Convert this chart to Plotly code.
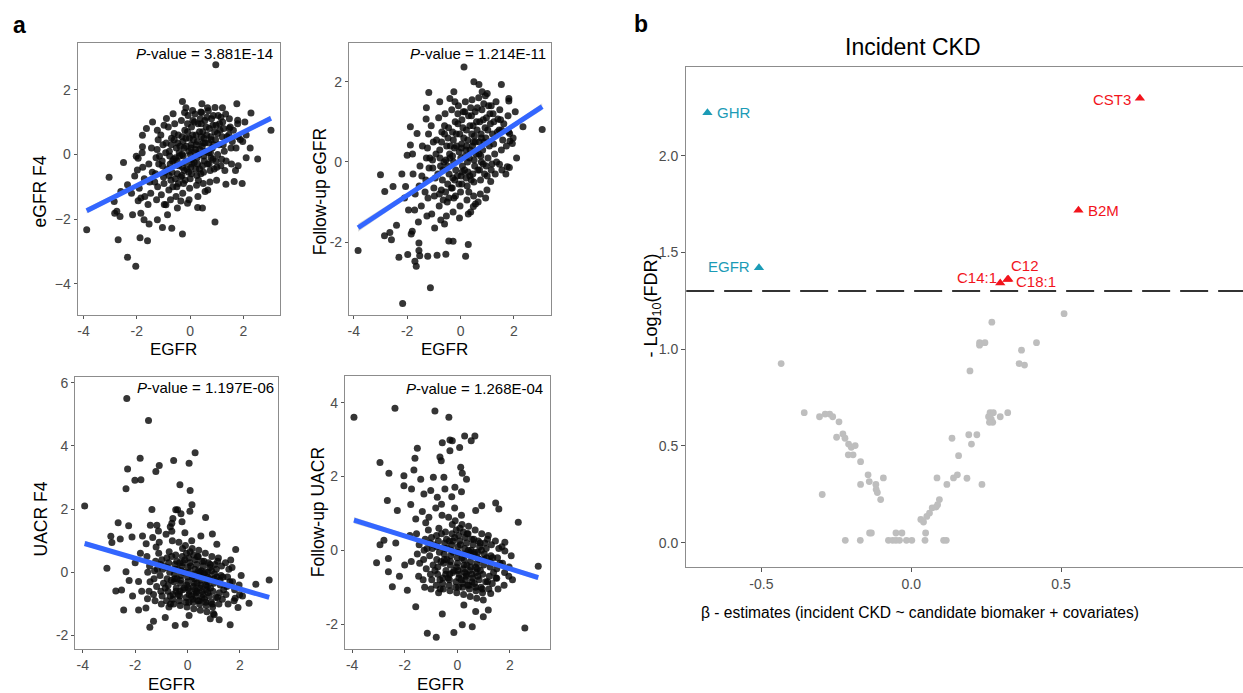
import numpy as np
import plotly.graph_objects as go

FONT = "Liberation Sans, Arial, sans-serif"
W, H = 1243, 693

# ---------------------------------------------------------------------------
# Panel a: circulating EGFR (x) against kidney traits (y)
# ---------------------------------------------------------------------------
egfr_f4_pts = [
    (0.96, 2.77), (-3.88, -2.33), (-3.04, -0.71), (-2.35, -3.18), (-2.04, -3.46), (-2.70, -2.64),
    (-1.88, -2.58), (-1.60, -2.67), (-2.83, -1.82), (-2.75, -1.76), (-2.63, -1.92), (-2.85, -1.46),
    (-2.60, -1.15), (-2.50, -0.25), (-2.35, -0.94), (-2.20, -1.20), (-2.16, -1.87), (-1.98, -0.48),
    (-1.91, -1.05), (-1.85, -1.35), (-1.85, -1.82), (-1.73, -2.02), (-1.54, -2.15), (-1.95, -0.12),
    (-1.79, 0.24), (-1.79, 0.59), (-1.64, 0.80), (-1.41, 1.00), (-1.23, 0.75), (-0.98, 0.90),
    (-0.89, 1.11), (-0.64, 1.26), (-0.29, 1.64), (-0.16, 1.44), (0.09, 1.36), (0.40, 1.31),
    (0.44, 1.57), (0.65, 1.44), (1.21, 1.44), (1.75, 1.57), (2.28, 1.28), (3.03, 0.75),
    (2.53, -0.14), (1.80, -0.35), (1.88, 0.46), (1.78, 1.06), (1.46, 0.80), (1.65, -0.84),
    (1.34, -0.92), (0.93, -2.09), (0.46, -1.66), (0.28, -1.64), (-0.29, -2.46), (-0.69, -2.28),
    (-1.04, -2.26), (-1.23, -2.02), (-0.85, -1.87), (-0.91, -1.56), (-0.48, -1.66), (-0.10, -1.51),
    (-0.35, -1.44), (2.10, 0.60), (2.25, 0.20), (1.95, -0.90), (-2.08, -0.67), (-1.95, -1.43),
    (-2.02, -0.06),
    (-1.78, -0.40), (-1.70, -1.30), (-1.72, -0.75), (-1.80, 0.05),
    (-1.55, -0.30), (-1.48, -1.20), (-1.52, -0.85), (-1.45, 0.20), (-1.58, -1.55), (-1.42, -0.55),
    (-1.28, -0.10), (-1.22, -1.00), (-1.30, -0.60), (-1.20, 0.45), (-1.26, -1.40), (-1.18, -0.30),
    (-1.33, -0.85), (-1.24, 0.15),
    (-1.05, -0.20), (-0.98, -0.90), (-1.02, 0.30), (-0.95, -0.55), (-1.08, -1.25), (-0.92, 0.05),
    (-1.00, -0.70), (-1.10, 0.60), (-0.97, -1.55), (-1.04, -0.35),
    (-0.78, 0.10), (-0.72, -0.80), (-0.75, -0.30), (-0.70, 0.50), (-0.80, -1.10), (-0.68, -0.55),
    (-0.82, 0.85), (-0.74, -1.40), (-0.77, -0.05), (-0.71, 0.30), (-0.79, -0.65), (-0.66, -0.20),
    (-0.52, 0.20), (-0.48, -0.60), (-0.55, -0.10), (-0.45, 0.60), (-0.50, -1.00), (-0.58, 0.95),
    (-0.43, -0.35), (-0.53, -1.30), (-0.47, 0.35), (-0.56, -0.75), (-0.41, 0.05), (-0.49, -0.20),
    (-0.60, 0.45), (-0.44, -0.90),
    (-0.27, 0.40), (-0.22, -0.50), (-0.30, 0.00), (-0.20, 0.75), (-0.25, -0.90), (-0.33, 1.05),
    (-0.18, -0.25), (-0.28, -1.20), (-0.23, 0.20), (-0.31, -0.65), (-0.16, 0.50), (-0.26, -0.05),
    (-0.21, 1.30), (-0.29, -0.40), (-0.19, -0.80),
    (-0.03, 0.50), (0.02, -0.40), (-0.05, 0.10), (0.05, 0.85), (0.00, -0.75), (-0.08, 1.20),
    (0.07, -0.15), (-0.02, -1.05), (0.04, 0.30), (-0.06, -0.55), (0.09, 0.60), (0.01, 0.00),
    (-0.10, 0.95), (0.06, -0.30), (-0.04, -1.40), (0.03, 0.20),
    (0.22, 0.60), (0.28, -0.30), (0.20, 0.15), (0.30, 0.95), (0.25, -0.65), (0.18, 1.25),
    (0.33, 0.00), (0.24, -0.95), (0.27, 0.40), (0.21, -0.45), (0.35, 0.70), (0.26, -0.10),
    (0.16, 1.00), (0.31, -0.80), (0.23, 0.30), (0.29, -1.30),
    (0.47, 0.70), (0.53, -0.20), (0.45, 0.25), (0.55, 1.05), (0.50, -0.55), (0.43, 1.30),
    (0.58, 0.10), (0.49, -0.90), (0.52, 0.50), (0.46, -0.35), (0.60, 0.85), (0.51, -0.05),
    (0.41, 0.95), (0.56, -1.15), (0.48, 0.35),
    (0.72, 0.80), (0.78, -0.10), (0.70, 0.35), (0.80, 1.10), (0.75, -0.50), (0.68, 1.35),
    (0.83, 0.20), (0.74, -0.85), (0.77, 0.55), (0.71, -0.30), (0.85, 0.90), (0.76, 0.05),
    (0.66, -1.10),
    (0.97, 0.90), (1.03, 0.00), (0.95, 0.45), (1.05, 1.20), (1.00, -0.40), (0.93, 1.45),
    (1.08, 0.30), (0.99, -0.80), (1.02, 0.65), (0.96, -0.20), (1.10, 0.95),
    (1.22, 1.00), (1.28, 0.10), (1.20, 0.55), (1.30, -0.50), (1.25, 0.80), (1.18, -0.15),
    (1.33, 1.25), (1.24, 0.30),
    (1.47, 1.10), (1.53, 0.20), (1.45, 0.60), (1.55, -0.30), (1.50, 0.85), (1.58, 0.40),
    (1.72, 0.20), (1.78, 0.95), (1.70, -0.50), (1.80, 0.55),
    (1.97, 0.40), (2.05, 1.00), (2.10, -0.10),
    (-0.62, -0.15), (-0.38, 0.25), (-0.12, -0.45), (0.12, 0.45), (0.36, 0.15), (0.62, 0.60),
    (0.88, 0.30), (1.12, 0.75), (-0.85, -0.45), (-0.35, -0.70), (0.15, -0.25), (0.40, -0.60),
    (0.65, -0.30), (0.90, -0.45), (1.15, -0.35), (-0.60, 0.65), (-0.10, 0.70), (0.10, 1.05),
    (0.38, 1.10), (0.63, 1.15), (0.87, 1.20), (1.15, 1.15), (-0.90, 0.35), (-0.40, -0.05),
    (0.18, 0.05), (0.42, 0.55), (0.69, 0.05), (0.92, 0.70), (1.38, 0.55), (1.62, 0.75),
    (-1.15, -0.05), (-0.65, -1.00), (-0.15, 0.25), (0.35, -0.45), (0.85, -0.15), (1.35, -0.20),
    (0.05, -0.60), (0.55, 0.35), (-0.30, 0.55), (0.78, 0.45),
]

fu_egfr_pts = [
    (0.13, 2.37), (-3.84, -2.21), (-3.00, -0.32), (-2.84, -0.74), (-2.85, -1.84), (-2.65, -1.76),
    (-2.59, -1.94), (-2.53, -0.61), (-2.40, -1.58), (-2.31, -2.38), (-2.06, -0.61), (-1.98, -2.31),
    (-1.81, -1.73), (-1.85, -1.80), (-1.71, -2.48), (-1.66, -2.60), (-1.56, -2.02), (-1.56, -2.21),
    (-1.53, -2.34), (-1.23, -2.35), (-0.88, -2.33), (-0.55, -2.30), (-1.13, -3.14), (-2.17, -3.53),
    (0.19, -2.35), (0.29, -2.06), (-0.28, -1.98), (-0.44, -1.97), (-0.60, -1.55), (-1.29, 1.07),
    (-1.28, 1.35), (-1.19, 1.73), (-0.78, 1.50), (-0.40, 1.58), (-0.25, 1.75), (0.50, 2.00),
    (0.69, 1.93), (0.81, 1.75), (1.00, 1.71), (1.53, 1.93), (1.81, 1.58), (1.81, 1.52),
    (2.34, 0.88), (3.06, 0.81), (1.84, 0.71), (1.75, -0.12), (1.83, -0.14), (1.46, -0.06),
    (1.85, 0.52), (1.94, 0.46), (1.54, 0.80), (1.40, 1.07), (1.13, -0.49), (0.94, -0.90),
    (0.48, -1.11), (0.38, -1.25), (-1.88, 0.88), (-1.88, 0.42), (-1.63, 0.71), (-2.00, 0.17),
    (-2.10, -0.90), (-1.95, -1.20), (-2.20, -0.30),
    (-1.78, -0.30), (-1.72, -1.20), (-1.70, -0.80), (-1.80, 0.20),
    (-1.52, -0.10), (-1.47, -1.10), (-1.55, -0.60), (-1.43, 0.40), (-1.58, -1.50), (-1.45, -0.35),
    (-1.28, 0.10), (-1.22, -0.90), (-1.30, -0.45), (-1.20, 0.70), (-1.26, -1.35), (-1.18, -0.15),
    (-1.33, -0.75), (-1.24, 0.35),
    (-1.05, 0.05), (-0.98, -0.85), (-1.02, 0.50), (-0.95, -0.40), (-1.08, -1.30), (-0.92, 0.20),
    (-1.00, -0.65), (-1.10, 0.90), (-0.97, -1.65), (-1.04, -0.15),
    (-0.78, 0.30), (-0.72, -0.70), (-0.75, -0.10), (-0.70, 0.75), (-0.80, -1.10), (-0.68, -0.45),
    (-0.82, 1.10), (-0.74, -1.45), (-0.77, 0.10), (-0.71, 0.50), (-0.79, -0.80), (-0.66, -0.20),
    (-0.52, 0.40), (-0.48, -0.55), (-0.55, 0.05), (-0.45, 0.85), (-0.50, -1.00), (-0.58, 1.20),
    (-0.43, -0.30), (-0.53, -1.35), (-0.47, 0.60), (-0.56, -0.75), (-0.41, 0.20), (-0.49, -0.10),
    (-0.60, 0.70), (-0.44, -0.90),
    (-0.27, 0.55), (-0.22, -0.45), (-0.30, 0.15), (-0.20, 1.00), (-0.25, -0.90), (-0.33, 1.30),
    (-0.18, -0.20), (-0.28, -1.25), (-0.23, 0.35), (-0.31, -0.65), (-0.16, 0.70), (-0.26, 0.00),
    (-0.21, 1.50), (-0.29, -0.40), (-0.19, -0.85),
    (-0.03, 0.70), (0.02, -0.35), (-0.05, 0.25), (0.05, 1.05), (0.00, -0.75), (-0.08, 1.40),
    (0.07, -0.10), (-0.02, -1.10), (0.04, 0.45), (-0.06, -0.55), (0.09, 0.85), (0.01, 0.10),
    (-0.10, 1.20), (0.06, -0.25), (-0.04, -1.40), (0.03, 0.35),
    (0.22, 0.80), (0.28, -0.25), (0.20, 0.30), (0.30, 1.15), (0.25, -0.60), (0.18, 1.50),
    (0.33, 0.10), (0.24, -0.95), (0.27, 0.55), (0.21, -0.40), (0.35, 0.90), (0.26, 0.00),
    (0.16, 1.25), (0.31, -0.75), (0.23, 0.40), (0.29, -1.30),
    (0.47, 0.90), (0.53, -0.10), (0.45, 0.40), (0.55, 1.25), (0.50, -0.50), (0.43, 1.55),
    (0.58, 0.20), (0.49, -0.85), (0.52, 0.65), (0.46, -0.30), (0.60, 1.00), (0.51, 0.05),
    (0.41, 1.15), (0.56, -1.05), (0.48, 0.50),
    (0.72, 1.00), (0.78, 0.00), (0.70, 0.50), (0.80, 1.30), (0.75, -0.45), (0.68, 1.60),
    (0.83, 0.30), (0.74, -0.80), (0.77, 0.70), (0.71, -0.20), (0.85, 1.05), (0.76, 0.15),
    (0.66, -1.00),
    (0.97, 1.10), (1.03, 0.10), (0.95, 0.60), (1.05, 1.40), (1.00, -0.35), (0.93, 1.65),
    (1.08, 0.40), (0.99, -0.70), (1.02, 0.80), (0.96, -0.10), (1.10, 1.20),
    (1.22, 1.20), (1.28, 0.20), (1.20, 0.70), (1.30, -0.30), (1.25, 1.00), (1.18, -0.05),
    (1.33, 1.50), (1.24, 0.45),
    (1.47, 1.30), (1.53, 0.30), (1.45, 0.80), (1.55, -0.20), (1.50, 1.05), (1.58, 0.55),
    (1.72, 0.40), (1.78, 1.15), (1.70, -0.30), (1.80, 0.75),
    (1.97, 0.60), (2.05, 1.25), (2.10, 0.10),
    (-0.62, 0.00), (-0.38, 0.40), (-0.12, -0.35), (0.12, 0.60), (0.36, 0.30), (0.62, 0.80),
    (0.88, 0.50), (1.12, 0.95), (-0.85, -0.30), (-0.35, -0.65), (0.15, -0.20), (0.40, -0.45),
    (0.65, -0.20), (0.90, -0.30), (1.15, -0.20), (-0.60, 0.90), (-0.10, 0.95), (0.10, 1.25),
    (0.38, 1.35), (0.63, 1.35), (0.87, 1.45), (1.15, 1.40), (-0.90, 0.55), (-0.40, 0.10),
    (0.18, 0.15), (0.42, 0.70), (0.69, 0.20), (0.92, 0.85), (1.38, 0.75), (1.62, 0.95),
    (-1.15, 0.10), (-0.65, -0.95), (-0.15, 0.40), (0.35, -0.35), (0.85, -0.05), (1.35, 0.00),
    (0.05, -0.55), (0.55, 0.50), (-0.30, 0.75), (0.78, 0.60),
]

uacr_f4_pts = [
    (-2.32, 5.50), (-1.49, 4.80), (-1.81, 3.61), (-2.29, 3.27), (-2.35, 2.64), (-2.01, 2.91),
    (-1.78, 2.93), (-1.08, 3.38), (-1.21, 3.19), (-0.53, 3.54), (0.06, 3.45), (0.29, 3.78),
    (-0.29, 2.77), (0.10, 2.59), (0.17, 2.14), (0.09, 1.93), (-0.45, 1.98), (-1.36, 1.99),
    (0.69, 1.73), (-3.93, 2.10), (-2.25, 1.47), (-2.65, 1.57), (-2.93, 1.14), (-2.89, 0.94),
    (-2.57, 1.05), (-3.08, 0.13), (-2.35, 0.02), (-2.74, -0.59), (-2.52, -0.56), (-2.44, -1.19),
    (-2.23, -0.26), (-1.87, -0.29), (-1.87, -1.19), (-1.53, -0.84), (-1.59, -1.13), (-1.30, -1.55),
    (-1.44, -1.74), (-0.85, -1.43), (-0.47, -1.68), (-0.09, -1.64), (0.06, -1.37), (0.87, -1.47),
    (1.02, -1.34), (1.21, -1.50), (1.63, -1.66), (1.93, -1.11), (1.82, -0.82), (2.35, -0.98),
    (2.61, -0.38), (3.12, -0.24), (1.99, -0.71), (1.84, 0.72), (1.65, 0.39), (0.95, 1.21),
    (1.12, 0.89), (0.51, 1.15), (-0.56, 1.70), (-0.66, 1.44), (-1.11, 1.31), (-1.42, 1.49),
    (-1.17, 1.49), (-1.72, 1.15), (-2.12, 1.12), (-2.00, 0.30), (-1.75, -0.60), (-2.10, -0.75),
    (-1.80, 0.60), (-0.38, 1.98), (-0.25, 1.85), (-0.60, 1.55),
    (-1.52, 0.00), (-1.47, -0.60), (-1.55, 0.50), (-1.43, -0.30), (-1.58, 0.90), (-1.45, 0.20),
    (-1.28, -0.20), (-1.22, 0.35), (-1.30, -0.70), (-1.20, 0.80), (-1.26, 0.05), (-1.18, -0.45),
    (-1.33, 1.10), (-1.24, -0.90),
    (-1.05, -0.10), (-0.98, 0.40), (-1.02, -0.60), (-0.95, 0.10), (-1.08, 0.95), (-0.92, -0.35),
    (-1.00, -1.00), (-1.10, 0.60), (-0.97, -0.75), (-1.04, 0.25),
    (-0.78, -0.20), (-0.72, 0.30), (-0.75, -0.60), (-0.70, 0.65), (-0.80, -0.90), (-0.68, 0.00),
    (-0.82, 1.20), (-0.74, -0.40), (-0.77, 0.15), (-0.71, -1.10), (-0.79, 0.45), (-0.66, -0.75),
    (-0.52, -0.30), (-0.48, 0.25), (-0.55, -0.70), (-0.45, 0.55), (-0.50, -0.05), (-0.58, 1.00),
    (-0.43, -0.50), (-0.53, -1.00), (-0.47, 0.10), (-0.56, -0.85), (-0.41, 0.35), (-0.49, -0.20),
    (-0.60, 1.30), (-0.44, -0.60),
    (-0.27, -0.35), (-0.22, 0.20), (-0.30, -0.75), (-0.20, 0.50), (-0.25, -0.10), (-0.33, 0.95),
    (-0.18, -0.55), (-0.28, -1.05), (-0.23, 0.05), (-0.31, -0.90), (-0.16, 0.30), (-0.26, -0.25),
    (-0.21, 1.60), (-0.29, -0.60), (-0.19, 0.75),
    (-0.03, -0.40), (0.02, 0.15), (-0.05, -0.80), (0.05, 0.45), (0.00, -0.15), (-0.08, 0.85),
    (0.07, -0.60), (-0.02, -1.10), (0.04, 0.00), (-0.06, -0.95), (0.09, 0.30), (0.01, -0.30),
    (-0.10, 1.25), (0.06, -0.70), (-0.04, 0.60), (0.03, -0.50),
    (0.22, -0.45), (0.28, 0.10), (0.20, -0.85), (0.30, 0.40), (0.25, -0.20), (0.18, 0.75),
    (0.33, -0.65), (0.24, -1.15), (0.27, -0.05), (0.21, -0.95), (0.35, 0.25), (0.26, -0.35),
    (0.16, 1.00), (0.31, -0.75), (0.23, 0.55), (0.29, -0.55),
    (0.47, -0.50), (0.53, 0.05), (0.45, -0.90), (0.55, 0.35), (0.50, -0.25), (0.43, 0.70),
    (0.58, -0.70), (0.49, -1.20), (0.52, -0.10), (0.46, -1.00), (0.60, 0.20), (0.51, -0.40),
    (0.41, 0.50), (0.56, -0.80), (0.48, 0.00),
    (0.72, -0.55), (0.78, 0.00), (0.70, -0.95), (0.80, 0.30), (0.75, -0.30), (0.68, 0.60),
    (0.83, -0.75), (0.74, -1.25), (0.77, -0.15), (0.71, -1.05), (0.85, 0.15), (0.76, -0.45),
    (0.66, 0.00),
    (0.97, -0.60), (1.03, -0.05), (0.95, -1.00), (1.05, 0.25), (1.00, -0.35), (0.93, 0.50),
    (1.08, -0.80), (0.99, -1.30), (1.02, -0.20), (0.96, -1.10), (1.10, 0.10),
    (1.22, -0.65), (1.28, -0.10), (1.20, -1.00), (1.30, 0.20), (1.25, -0.40), (1.18, 0.45),
    (1.33, -0.85), (1.24, -0.25),
    (1.47, -0.70), (1.53, -0.15), (1.45, 0.30), (1.55, -1.00), (1.50, -0.45), (1.58, 0.10),
    (1.72, -0.30), (1.78, -0.90), (1.70, 0.15), (1.80, -0.55),
    (1.97, -0.40), (2.05, -0.10), (2.10, -0.75),
    (-0.62, -0.25), (-0.38, 0.10), (-0.12, -0.50), (0.12, 0.20), (0.36, -0.35), (0.62, -0.05),
    (0.88, -0.50), (1.12, -0.15), (-0.85, -0.50), (-0.35, -0.70), (0.15, -0.75), (0.40, -0.90),
    (0.65, -0.85), (0.90, -0.95), (1.15, -0.80), (-0.60, 0.50), (-0.10, 0.40), (0.10, 0.65),
    (0.38, 0.50), (0.63, 0.35), (0.87, 0.25), (1.15, 0.35), (-0.90, 0.20), (-0.40, -0.20),
    (0.18, -0.15), (0.42, 0.05), (0.69, -0.40), (0.92, 0.05), (1.38, -0.55), (1.62, -0.30),
    (-1.15, 0.10), (-0.65, -1.00), (-0.15, 0.00), (0.35, -0.60), (0.85, -0.20), (1.35, -0.15),
    (0.05, -0.95), (0.55, -0.60), (-0.30, 0.30), (0.78, -0.65),
]

fu_uacr_pts = [
    (-3.93, 3.61), (-2.37, 3.85), (-0.85, 3.78), (-0.32, 3.61), (0.28, 3.10), (0.67, 3.10),
    (0.53, 2.97), (-0.57, 2.92), (-0.28, 2.99), (-0.19, 2.97), (0.09, 2.79), (-0.28, 2.70),
    (-0.66, 2.53), (-0.61, 2.43), (-1.52, 2.77), (-1.61, 2.50), (-1.65, 2.18), (-2.94, 2.38),
    (-2.60, 2.09), (-2.03, 2.02), (-2.03, 1.75), (-1.74, 1.66), (-1.39, 1.93), (-0.91, 1.98),
    (-0.51, 1.98), (-0.47, 1.66), (0.13, 2.25), (0.19, 2.09), (0.35, 1.93), (-0.09, 1.71),
    (0.16, 1.59), (-1.01, 1.62), (-1.27, 1.53), (-0.76, 1.44), (-2.66, 1.35), (-2.28, 1.08),
    (-1.77, 1.24), (1.46, 1.28), (1.58, 1.12), (0.93, 1.21), (0.70, 1.08), (2.32, 0.76),
    (3.08, -0.43), (2.57, -2.11), (-1.14, -2.25), (-0.80, -2.36), (-0.13, -2.23), (0.19, -2.02),
    (0.57, -2.07), (-0.57, -1.73), (0.25, -1.48), (0.70, -1.66), (0.99, -1.80), (1.18, -1.62),
    (-1.58, -1.53), (-1.90, -1.08), (-2.47, -0.99), (-2.62, -0.58), (-3.07, -0.34), (-2.94, 0.15),
    (-2.79, 0.27), (-2.62, -0.22), (-2.34, 0.20), (1.81, 0.22), (1.81, -0.02), (1.96, -0.70),
    (1.50, -0.76), (1.27, -1.17), (-2.00, -0.40), (-1.80, 0.40), (-2.20, -0.70), (-1.75, -0.30),
    (-1.52, -0.10), (-1.47, -0.70), (-1.55, 0.45), (-1.43, -0.35), (-1.58, 0.85), (-1.45, 0.15),
    (-1.28, -0.25), (-1.22, 0.30), (-1.30, -0.80), (-1.20, 0.75), (-1.26, 0.00), (-1.18, -0.50),
    (-1.33, 1.05), (-1.24, -1.00),
    (-1.05, -0.15), (-0.98, 0.35), (-1.02, -0.65), (-0.95, 0.05), (-1.08, 0.90), (-0.92, -0.40),
    (-1.00, -1.05), (-1.10, 0.55), (-0.97, -0.80), (-1.04, 0.20),
    (-0.78, -0.25), (-0.72, 0.25), (-0.75, -0.65), (-0.70, 0.60), (-0.80, -0.95), (-0.68, -0.05),
    (-0.82, 1.15), (-0.74, -0.45), (-0.77, 0.10), (-0.71, -1.15), (-0.79, 0.40), (-0.66, -0.80),
    (-0.52, -0.35), (-0.48, 0.20), (-0.55, -0.75), (-0.45, 0.50), (-0.50, -0.10), (-0.58, 0.95),
    (-0.43, -0.55), (-0.53, -1.05), (-0.47, 0.05), (-0.56, -0.90), (-0.41, 0.30), (-0.49, -0.25),
    (-0.60, 1.25), (-0.44, -0.65),
    (-0.27, -0.40), (-0.22, 0.15), (-0.30, -0.80), (-0.20, 0.45), (-0.25, -0.15), (-0.33, 0.90),
    (-0.18, -0.60), (-0.28, -1.10), (-0.23, 0.00), (-0.31, -0.95), (-0.16, 0.25), (-0.26, -0.30),
    (-0.21, 1.45), (-0.29, -0.65), (-0.19, 0.70),
    (-0.03, -0.45), (0.02, 0.10), (-0.05, -0.85), (0.05, 0.40), (0.00, -0.20), (-0.08, 0.80),
    (0.07, -0.65), (-0.02, -1.15), (0.04, -0.05), (-0.06, -1.00), (0.09, 0.25), (0.01, -0.35),
    (-0.10, 1.15), (0.06, -0.75), (-0.04, 0.55), (0.03, -0.55),
    (0.22, -0.50), (0.28, 0.05), (0.20, -0.90), (0.30, 0.35), (0.25, -0.25), (0.18, 0.70),
    (0.33, -0.70), (0.24, -1.20), (0.27, -0.10), (0.21, -1.00), (0.35, 0.20), (0.26, -0.40),
    (0.16, 0.95), (0.31, -0.80), (0.23, 0.50), (0.29, -0.60),
    (0.47, -0.55), (0.53, 0.00), (0.45, -0.95), (0.55, 0.30), (0.50, -0.30), (0.43, 0.65),
    (0.58, -0.75), (0.49, -1.25), (0.52, -0.15), (0.46, -1.05), (0.60, 0.15), (0.51, -0.45),
    (0.41, 0.45), (0.56, -0.85), (0.48, -0.05),
    (0.72, -0.60), (0.78, -0.05), (0.70, -1.00), (0.80, 0.25), (0.75, -0.35), (0.68, 0.55),
    (0.83, -0.80), (0.74, -1.30), (0.77, -0.20), (0.71, -1.10), (0.85, 0.10), (0.76, -0.50),
    (0.66, -0.05),
    (0.97, -0.65), (1.03, -0.10), (0.95, -1.05), (1.05, 0.20), (1.00, -0.40), (0.93, 0.45),
    (1.08, -0.85), (0.99, -1.35), (1.02, -0.25), (0.96, -1.15), (1.10, 0.05),
    (1.22, -0.70), (1.28, -0.15), (1.20, -1.05), (1.30, 0.15), (1.25, -0.45), (1.18, 0.40),
    (1.33, -0.90), (1.24, -0.30),
    (1.47, -0.75), (1.53, -0.20), (1.45, 0.25), (1.55, -1.05), (1.50, -0.50), (1.58, 0.05),
    (1.72, -0.35), (1.78, -0.95), (1.70, 0.10), (1.80, -0.60),
    (1.97, -0.45), (2.05, -0.15), (2.10, -0.80),
    (-0.62, -0.30), (-0.38, 0.05), (-0.12, -0.55), (0.12, 0.15), (0.36, -0.40), (0.62, -0.10),
    (0.88, -0.55), (1.12, -0.20), (-0.85, -0.55), (-0.35, -0.75), (0.15, -0.80), (0.40, -0.95),
    (0.65, -0.90), (0.90, -1.00), (1.15, -0.85), (-0.60, 0.45), (-0.10, 0.35), (0.10, 0.60),
    (0.38, 0.45), (0.63, 0.30), (0.87, 0.20), (1.15, 0.30), (-0.90, 0.15), (-0.40, -0.25),
    (0.18, -0.20), (0.42, 0.00), (0.69, -0.45), (0.92, 0.00), (1.38, -0.60), (1.62, -0.35),
    (-1.15, 0.05), (-0.65, -1.05), (-0.15, -0.05), (0.35, -0.65), (0.85, -0.25), (1.35, -0.20),
    (0.05, -1.00), (0.55, -0.65), (-0.30, 0.25), (0.78, -0.70),
]

# outcome label, points, p-value string, lm fit (intercept, slope), half-width of the CI at the ends
a_outcomes = ["eGFR F4", "Follow-up eGFR", "UACR F4", "Follow-up UACR"]
a_points = [egfr_f4_pts, fu_egfr_pts, uacr_f4_pts, fu_uacr_pts]
a_pvalues = ["3.881E-14", "1.214E-11", "1.197E-06", "1.268E-04"]
a_fits = [(-0.135, 0.414), (0.04, 0.438), (-0.04, -0.242), (-0.056, -0.222)]
a_ci_end = [0.09, 0.10, 0.08, 0.09]
a_yticks = [[-4, -2, 0, 2], [-2, 0, 2], [-2, 0, 2, 4, 6], [-2, 0, 2, 4]]
a_xticks = [-4, -2, 0, 2]

# ---------------------------------------------------------------------------
# Panel b: volcano of incident CKD associations
# ---------------------------------------------------------------------------
beta_ns = [-0.434, -0.357, -0.297, -0.306, -0.287, -0.272, -0.262, -0.241, -0.249, -0.228,
           -0.221, -0.209, -0.200, -0.187, -0.210, -0.194, -0.169, -0.169, -0.144, -0.140,
           -0.118, -0.117, -0.113, -0.093, -0.102, -0.220, -0.170, -0.139, -0.133, -0.076,
           -0.062, -0.051, -0.039, -0.051, -0.031, -0.016, 0.002, 0.046, 0.048, 0.108,
           0.117, 0.032, 0.041, 0.052, 0.061, 0.070, 0.083, 0.088, 0.094, 0.086,
           0.119, 0.141, 0.154, 0.136, 0.158, 0.186, 0.192, 0.201, 0.219, 0.236,
           0.196, 0.228, 0.228, 0.246, 0.269, 0.258, 0.263, 0.274, 0.267, 0.272,
           0.261, 0.297, 0.322, 0.360, 0.368, 0.378, 0.418, 0.510]
nlogfdr_ns = [0.926, 0.672, 0.249, 0.651, 0.665, 0.665, 0.651, 0.625, 0.545, 0.562,
              0.540, 0.510, 0.493, 0.502, 0.454, 0.454, 0.419, 0.301, 0.351, 0.316,
              0.301, 0.275, 0.259, 0.335, 0.223, 0.012, 0.012, 0.050, 0.050, 0.012,
              0.012, 0.012, 0.012, 0.050, 0.050, 0.012, 0.012, 0.012, 0.050, 0.012,
              0.012, 0.120, 0.107, 0.136, 0.153, 0.180, 0.184, 0.196, 0.223, 0.335,
              0.301, 0.335, 0.351, 0.540, 0.450, 0.333, 0.558, 0.510, 0.558, 0.301,
              0.888, 1.034, 1.021, 1.034, 1.140, 0.651, 0.672, 0.672, 0.639, 0.622,
              0.622, 0.651, 0.672, 0.926, 0.995, 0.918, 1.034, 1.184]

sig_names = ["GHR", "EGFR", "CST3", "B2M", "C14:1", "C12", "C18:1"]
sig_beta = [-0.680, -0.508, 0.763, 0.558, 0.297, 0.324, 0.321]
sig_nlogfdr = [2.223, 1.421, 2.297, 1.718, 1.343, 1.362, 1.360]
sig_direction = ["down", "down", "up", "up", "up", "up", "up"]
fdr_cutoff = 0.05

# ---------------------------------------------------------------------------
# styling and layout
# ---------------------------------------------------------------------------
POINT_COLOR = "rgba(8,8,8,0.82)"
LINE_BLUE = "#3366FF"
FRAME = "#8c8c8c"
TICKFONT = dict(family=FONT, size=14, color="#4d4d4d")
COLOR_UP = "#F2141C"
COLOR_DOWN = "#1B9BB6"


def px(v):
    return v / W


def py(v):
    return 1 - v / H


# plot areas in pixels: (left, right, top, bottom) and axis ranges
a_boxes = [(76.7, 279.0, 41.0, 314.0), (348.3, 550.7, 41.0, 314.0),
           (74.3, 277.3, 375.7, 649.0), (344.3, 549.0, 375.0, 649.0)]
a_xranges = [(-4.22, 3.36), (-4.18, 3.40), (-4.29, 3.46), (-4.27, 3.51)]
a_yranges = [(-4.97, 3.45), (-3.82, 2.97), (-2.43, 6.19), (-2.68, 4.73)]
a_ytitle_pos = [(39, 190), (320, 190), (40, 518), (317, 512)]
a_xtitle_pos = [(173, 349), (444, 349), (171, 684), (440, 684)]
a_pval_pos = [(274, 52), (547, 52), (275, 387), (544, 388)]
a_minus = ["\u2212", "-", "-", "-"]

fig = go.Figure()
annotations = []

for i in range(4):
    ax = "" if i == 0 else str(i + 1)
    xs, ys = (np.array(v, dtype=float) for v in zip(*a_points[i]))
    b0, b1 = a_fits[i]

    fig.add_trace(go.Scatter(
        x=xs, y=ys, mode="markers", xaxis="x" + ax, yaxis="y" + ax,
        marker=dict(size=7, color=POINT_COLOR, line=dict(width=0)),
        showlegend=False, hoverinfo="skip"))

    # linear fit with a narrow confidence ribbon
    gx = np.linspace(xs.min(), xs.max(), 80)
    gy = b0 + b1 * gx
    n = len(xs)
    sxx = ((xs - xs.mean()) ** 2).sum()
    shape_f = np.sqrt(1 / n + (gx - xs.mean()) ** 2 / sxx)
    hw = a_ci_end[i] * shape_f / shape_f.max()
    fig.add_trace(go.Scatter(
        x=np.concatenate([gx, gx[::-1]]), y=np.concatenate([gy + hw, (gy - hw)[::-1]]),
        mode="lines", fill="toself", fillcolor="rgba(153,153,153,0.35)", line=dict(width=0),
        xaxis="x" + ax, yaxis="y" + ax, showlegend=False, hoverinfo="skip"))
    fig.add_trace(go.Scatter(
        x=gx, y=gy, mode="lines", line=dict(color=LINE_BLUE, width=5),
        xaxis="x" + ax, yaxis="y" + ax, showlegend=False, hoverinfo="skip"))

    left, right, top, bottom = a_boxes[i]
    common = dict(showline=True, mirror=True, linecolor=FRAME, linewidth=1.2,
                  ticks="outside", ticklen=3, tickwidth=1, tickcolor="#555555",
                  tickfont=TICKFONT, showgrid=False, zeroline=False)
    fig.update_layout(**{
        "xaxis" + ax: dict(domain=[px(left), px(right)], range=list(a_xranges[i]),
                           anchor="y" + ax, tickvals=a_xticks,
                           ticktext=[f"-{abs(t)}" if t < 0 else str(t) for t in a_xticks],
                           **common),
        "yaxis" + ax: dict(domain=[py(bottom), py(top)], range=list(a_yranges[i]),
                           anchor="x" + ax, tickvals=a_yticks[i],
                           ticktext=[f"{a_minus[i]}{abs(t)}" if t < 0 else str(t)
                                     for t in a_yticks[i]],
                           **common),
    })

    tx, ty = a_ytitle_pos[i]
    annotations.append(dict(text=a_outcomes[i], x=px(tx), y=py(ty), xref="paper", yref="paper",
                            textangle=-90, showarrow=False, xanchor="center", yanchor="middle",
                            font=dict(family=FONT, size=17.5, color="black")))
    tx, ty = a_xtitle_pos[i]
    annotations.append(dict(text="EGFR", x=px(tx), y=py(ty), xref="paper", yref="paper",
                            showarrow=False, xanchor="center", yanchor="middle",
                            font=dict(family=FONT, size=17, color="black")))
    tx, ty = a_pval_pos[i]
    annotations.append(dict(text=f"<i>P</i>-value = {a_pvalues[i]}", x=px(tx), y=py(ty),
                            xref="paper", yref="paper", showarrow=False,
                            xanchor="right", yanchor="middle",
                            font=dict(family=FONT, size=15, color="black")))

# ---- panel b ----
b_left, b_top, b_bottom = 685.7, 65.0, 566.7
fig.add_trace(go.Scatter(
    x=beta_ns, y=nlogfdr_ns, mode="markers", xaxis="x5", yaxis="y5",
    marker=dict(size=6.8, color="#BEBEBE", line=dict(width=0)),
    showlegend=False, hoverinfo="skip"))

cut = -np.log10(fdr_cutoff)
fig.add_trace(go.Scatter(
    x=[-0.751, 1.107], y=[cut, cut], mode="lines", xaxis="x5", yaxis="y5",
    line=dict(color="#333333", width=1.8, dash="28px,10px"),
    showlegend=False, hoverinfo="skip"))

sig_colors = [COLOR_UP if d == "up" else COLOR_DOWN for d in sig_direction]
fig.add_trace(go.Scatter(
    x=sig_beta, y=sig_nlogfdr, mode="markers", xaxis="x5", yaxis="y5",
    marker=dict(symbol="triangle-up", size=9, color=sig_colors, line=dict(width=0)),
    showlegend=False, hoverinfo="skip"))

# label placement: (xanchor, xshift, yshift)
label_place = {
    "GHR": ("left", 8, 0), "EGFR": ("right", -7, 1), "CST3": ("right", -7, -1),
    "B2M": ("left", 8, 0), "C14:1": ("right", -1, 5), "C12": ("left", 1, 14),
    "C18:1": ("left", 7, -2),
}
for name, bx, by, col in zip(sig_names, sig_beta, sig_nlogfdr, sig_colors):
    xa, xs_, ys_ = label_place[name]
    annotations.append(dict(text=name, x=bx, y=by, xref="x5", yref="y5", showarrow=False,
                            xanchor=xa, yanchor="middle", xshift=xs_, yshift=ys_,
                            font=dict(family=FONT, size=15, color=col)))

fig.update_layout(
    xaxis5=dict(domain=[px(b_left), 1.0], range=[-0.751, 1.107], anchor="y5",
                tickvals=[-0.5, 0, 0.5], ticktext=["-0.5", "0.0", "0.5"],
                showline=True, mirror=True, linecolor=FRAME, linewidth=1.2,
                ticks="outside", ticklen=4, tickcolor="#555555", tickfont=TICKFONT,
                showgrid=False, zeroline=False),
    yaxis5=dict(domain=[py(b_bottom), py(b_top)], range=[-0.126, 2.46], anchor="x5",
                tickvals=[0, 0.5, 1, 1.5, 2], ticktext=["0.0", "0.5", "1.0", "1.5", "2.0"],
                showline=True, mirror=False, linecolor=FRAME, linewidth=1.2,
                ticks="outside", ticklen=4, tickcolor="#555555", tickfont=TICKFONT,
                showgrid=False, zeroline=False),
)

annotations += [
    dict(text="Incident CKD", x=px(913), y=py(45), xref="paper", yref="paper", showarrow=False,
         xanchor="center", yanchor="middle", font=dict(family=FONT, size=23, color="black")),
    dict(text="- Log<sub>10</sub>(FDR)", x=px(652), y=py(304), xref="paper", yref="paper",
         textangle=-90, showarrow=False, xanchor="center", yanchor="middle",
         font=dict(family=FONT, size=18, color="black")),
    dict(text="\u03b2 - estimates (incident CKD ~ candidate biomaker + covariates)",
         x=px(920), y=py(612), xref="paper", yref="paper", showarrow=False,
         xanchor="center", yanchor="middle", font=dict(family=FONT, size=15.6, color="black")),
    dict(text="<b>a</b>", x=px(18.5), y=py(23), xref="paper", yref="paper", showarrow=False,
         xanchor="center", yanchor="middle", font=dict(family=FONT, size=23, color="black")),
    dict(text="<b>b</b>", x=px(641), y=py(22), xref="paper", yref="paper", showarrow=False,
         xanchor="center", yanchor="middle", font=dict(family=FONT, size=23, color="black")),
]

fig.update_layout(
    width=W, height=H, margin=dict(l=0, r=0, t=0, b=0),
    paper_bgcolor="white", plot_bgcolor="white",
    annotations=annotations,
    font=dict(family=FONT),
)

fig.write_html("out.html")
